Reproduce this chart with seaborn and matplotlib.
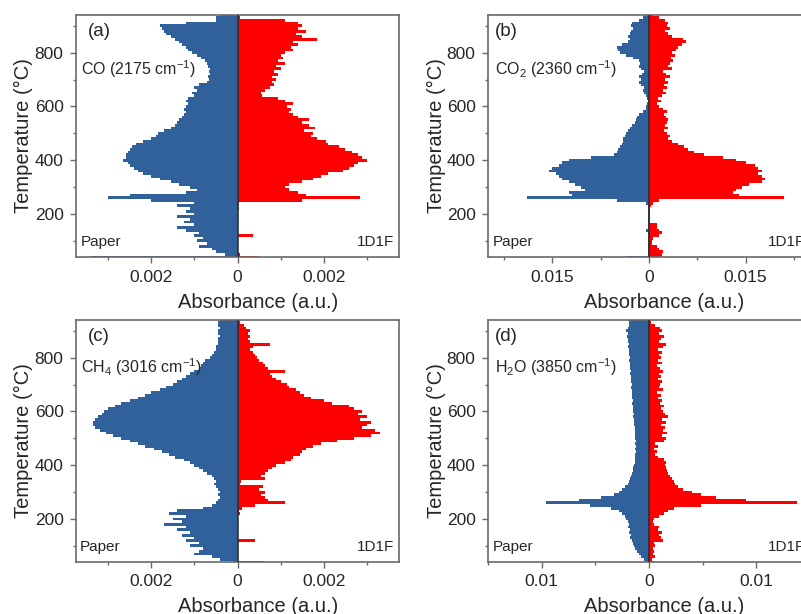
import numpy as np
import pandas as pd
import matplotlib
matplotlib.use("Agg")
import matplotlib.pyplot as plt
from matplotlib.ticker import FixedLocator, FuncFormatter
import seaborn as sns

sns.set_style("ticks")
plt.rcParams["font.family"] = ["Liberation Sans", "DejaVu Sans"]
plt.rcParams["mathtext.default"] = "regular"

# Temperature bins (°C), 40 ... 940 in 10 °C steps
temperature = np.arange(40, 950, 10)

# ---- CO (2175 cm-1), absorbance x 1e-4 ----
co_paper = [34, 3, 5, 6, 9, 7, 9.5, 8, 10, 9,
            12, 14, 10, 12.5, 11, 14, 10, 12, 11, 14,
            10, 20, 30, 25, 12, 9.5, 11, 13.5, 15.5, 18,
            20, 22, 23, 24, 25, 25.5, 26.5, 26, 26, 25.5,
            25, 24.5, 23.5, 22, 20, 19, 18.5, 17, 15.5, 14.5,
            14, 13.5, 13, 12.5, 12, 12.5, 12, 11.5, 12, 11.5,
            10, 10.5, 9.5, 10, 9, 7, 6.6, 6.8, 6.5, 6.7,
            6.5, 6.8, 7, 7.5, 8.5, 9.5, 10.5, 11.5, 12, 13,
            13.5, 14.5, 15.5, 16.5, 17, 17.5, 18, 12, 5, 5,
            4]
co_1d1f = [5, 0.5, 0.1, 0.1, 0.1, 0.1, 0.1, 0.2, 3.7, 0.2,
           0.1, 0.1, 0.1, 0.1, 0.1, 0.1, 0.2, 0.1, 0.3, 0.2,
           0.3, 15, 28.5, 16, 14, 12, 11, 12, 15, 17.5,
           19.5, 21, 24.5, 26, 27, 28, 30, 29, 28, 26.5,
           25, 23.5, 21, 20.5, 18.5, 17, 17.5, 15.5, 18, 16.5,
           15, 16.5, 14, 13, 12, 12.5, 11.5, 13, 11, 9.5,
           5.8, 5.5, 6.5, 7.5, 8.5, 8, 9, 8, 9.5, 8.5,
           10, 9, 11, 9.5, 10.5, 10, 11, 13, 12.5, 14,
           13, 18.5, 15, 13.5, 16, 14, 15, 14, 11, 0.5,
           0.3]

# ---- CO2 (2360 cm-1), absorbance x 1e-3 ----
co2_paper = [3.5, 0.1, 0.1, 0.1, 0.1, 0.1, 0.1, 0.1, 0.1, 0.1,
             0.4, 0.1, 0.1, 0.1, 0.1, 0.1, 0.1, 0.1, 0.2, 0.2,
             0.4, 5, 19, 12, 12.5, 10, 10.5, 11.5, 12.5, 13.5,
             14, 14.5, 15.5, 15, 14, 13.5, 12.5, 9, 5.5, 5,
             4.8, 4.5, 4.2, 4, 4, 3.8, 3.5, 3.2, 3, 2.7,
             2.2, 2, 1.8, 1.5, 1.0, 0.5, 0.4, 0.3, 0.2, 0.3,
             0.5, 0.8, 1, 0.8, 1.2, 1.5, 1.2, 1.5, 1.1, 0.8,
             1.2, 1.5, 1.4, 1.6, 2.5, 3.5, 4.5, 4.8, 5, 4.2,
             3.2, 3, 3.3, 3, 2.8, 2.5, 2.8, 2.6, 1.5, 1,
             0.6]
co2_1d1f = [1.8, 2, 2.2, 1.5, 1.3, 0.5, 0.4, 0.6, 1.5, 2,
            1.6, 1.3, 1.2, 0.2, 0.1, 0.1, 0.1, 0.1, 0.2, 0.3,
            0.6, 1.5, 21, 14, 13, 13.5, 14.5, 15.5, 17.5, 18,
            17.5, 17, 17.5, 17, 16.5, 15, 13.5, 11.5, 8.5, 7,
            6, 5.5, 4.5, 3.5, 3, 3.2, 2.8, 2.3, 3, 2.5,
            2.8, 3, 2.6, 2.4, 2.8, 2.2, 1.6, 1.2, 1.9, 1.4,
            2, 2.6, 2.2, 2.8, 2.4, 2.9, 2.5, 3.3, 2.6, 2.2,
            3.5, 3.0, 3.2, 3.8, 3.4, 4, 3.6, 4.2, 4.5, 5.2,
            5.8, 5.3, 3.5, 3, 2.5, 3.2, 2.8, 3, 2.5, 1.5,
            0.6]

# ---- CH4 (3016 cm-1), absorbance x 1e-4 ----
ch4_paper = [1, 4, 6, 10, 9, 8, 11, 9, 12, 10,
             13, 11, 14, 12, 17, 13, 15, 12, 16, 14,
             8, 6, 5, 4.5, 4, 4.5, 4, 4.5, 5, 5.5,
             5, 5.5, 6, 7, 8, 9, 10, 11, 12.5, 14.5,
             16, 17.5, 19.5, 21.5, 23, 25, 27, 29, 30.5, 32,
             33, 33.5, 33.5, 33, 32.5, 31.5, 31, 30, 28.5, 27,
             25, 23, 21.5, 20, 18, 16.5, 15, 14, 13, 12,
             11, 10, 9, 8.5, 8, 7.5, 6.5, 6, 5.5, 5,
             5, 4.5, 4.5, 4.5, 4, 4.5, 4.5, 4, 4.5, 4.5,
             4]
ch4_1d1f = [6, 0.2, 0.1, 0.1, 0.1, 0.1, 0.1, 0.2, 4, 0.2,
            0.1, 0.1, 0.1, 0.1, 0.1, 0.1, 0.2, 0.1, 0.5, 0.3,
            1, 4, 11, 7, 6.5, 5.5, 6.5, 5, 6, 0.5,
            0.8, 6.5, 5.5, 6.5, 7, 8, 9, 11, 12.5, 13,
            14.5, 15, 16, 17.5, 19.5, 23, 27, 31, 33, 32,
            29, 30, 31, 28.5, 30, 28, 29, 27, 26, 22,
            20, 17, 15.5, 14.5, 13.5, 12, 11.5, 10, 9, 8,
            7.5, 11, 7, 6.5, 6, 5, 4.5, 4, 3.5, 3,
            3.5, 7.5, 3, 2.5, 3, 2.5, 3, 2, 1.5, 0.5,
            0.2]

# ---- H2O (3850 cm-1), absorbance x 1e-3 ----
h2o_paper = [0.3, 0.5, 0.7, 0.9, 1.1, 1.3, 1.4, 1.5, 1.6, 1.8,
             1.7, 1.9, 1.8, 2, 1.9, 2, 2.1, 2.2, 2.5, 2.8,
             3.5, 5.5, 9.6, 6.5, 4.5, 3.3, 2.8, 2.5, 2.2, 2,
             1.9, 1.8, 1.7, 1.6, 1.5, 1.5, 1.4, 1.35, 1.3, 1.3,
             1.3, 1.25, 1.3, 1.25, 1.3, 1.25, 1.3, 1.3, 1.35, 1.3,
             1.35, 1.4, 1.4, 1.4, 1.45, 1.4, 1.5, 1.45, 1.5, 1.55,
             1.5, 1.55, 1.6, 1.55, 1.6, 1.65, 1.6, 1.7, 1.65, 1.7,
             1.75, 1.7, 1.8, 1.75, 1.8, 1.85, 1.8, 1.9, 1.85, 1.9,
             1.95, 1.9, 2, 1.95, 2.05, 2, 2.1, 2, 1.9, 1.9,
             2]
h2o_1d1f = [0.5, 0.3, 0.6, 0.4, 0.5, 0.4, 0.6, 0.5, 1.3, 1.1,
            0.9, 1.2, 0.8, 0.9, 0.5, 0.4, 0.5, 0.9, 1.4, 1.8,
            2.3, 4.8, 13.8, 9, 6.2, 4.8, 4, 3.2, 2.7, 2.4,
            2.3, 2.1, 2, 1.8, 1.7, 1.6, 1.5, 1.6, 1.4, 0.8,
            0.6, 0.7, 0.5, 0.8, 0.6, 1.4, 1.6, 1.2, 1.7, 1.3,
            1.5, 1.1, 1.6, 1.2, 1.8, 1.5, 1.3, 1.1, 1.4, 1,
            1.2, 0.8, 1.1, 0.7, 1.3, 0.9, 1, 1.2, 0.8, 1.1,
            0.9, 1.3, 1, 0.7, 1.2, 0.8, 1.1, 0.9, 1.2, 0.8,
            1.3, 1.6, 0.9, 1.1, 1.4, 0.9, 1.2, 1, 0.6, 0.2,
            0.1]

species_labels = ["CO (2175 cm$^{-1}$)", "CO$_2$ (2360 cm$^{-1}$)",
                  "CH$_4$ (3016 cm$^{-1}$)", "H$_2$O (3850 cm$^{-1}$)"]
panel_tags = ["(a)", "(b)", "(c)", "(d)"]
sample_names = ["Paper", "1D1F"]

BLUE = "#30619a"
RED = "#ff0000"
SPINE = "#6a6a6a"
INK = "#262626"

W, H = 801, 614
fig = plt.figure(figsize=(W / 100, H / 100), dpi=100)

# left, top, width, height in pixels; x half-range; major/minor x steps; unit scale
layout = [
    dict(box=(76, 15, 323, 242), half=0.00375, major=0.002, minor=0.001, scale=1e-4,
         data=(co_paper, co_1d1f), tag_x=0.037, lab_x=0.015, paper_x=0.015,
         lab_y=0.750, xlab_x=0.563, ylab_x=-0.164),
    dict(box=(488, 15, 322, 242), half=0.025, major=0.015, minor=0.0075, scale=1e-3,
         data=(co2_paper, co2_1d1f), tag_x=0.022, lab_x=0.022, paper_x=0.016,
         lab_y=0.750, xlab_x=0.547, ylab_x=-0.160),
    dict(box=(76, 320, 323, 242), half=0.00375, major=0.002, minor=0.001, scale=1e-4,
         data=(ch4_paper, ch4_1d1f), tag_x=0.037, lab_x=0.017, paper_x=0.013,
         lab_y=0.780, xlab_x=0.563, ylab_x=-0.164),
    dict(box=(488, 320, 322, 242), half=0.015, major=0.01, minor=0.005, scale=1e-3,
         data=(h2o_paper, h2o_1d1f), tag_x=0.022, lab_x=0.022, paper_x=0.016,
         lab_y=0.780, xlab_x=0.547, ylab_x=-0.160),
]

n = len(temperature)
for i, cfg in enumerate(layout):
    l, t, w, h = cfg["box"]
    ax = fig.add_axes([l / W, 1 - (t + h) / H, w / W, h / H])

    paper, d1f = cfg["data"]
    frame = pd.DataFrame({
        "temperature": np.concatenate([temperature, temperature]),
        "absorbance": np.concatenate([-np.asarray(paper) * cfg["scale"],
                                      np.asarray(d1f) * cfg["scale"]]),
        "sample": [sample_names[0]] * n + [sample_names[1]] * n,
    })
    sns.barplot(data=frame, x="absorbance", y="temperature", hue="sample",
                palette={sample_names[0]: BLUE, sample_names[1]: RED},
                orient="y", native_scale=True, dodge=False, width=1.05,
                errorbar=None, saturation=1, linewidth=0, legend=False, ax=ax)

    ax.axvline(0, color="#2a2a2a", lw=1.1, zorder=5)

    half = cfg["half"]
    ax.set_xlim(-half, half)
    ax.set_ylim(40, 940)

    mj = cfg["major"]
    ax.xaxis.set_major_locator(FixedLocator([-mj, 0, mj]))
    mn = cfg["minor"]
    k = int(np.floor(half / mn + 1e-9))
    ax.xaxis.set_minor_locator(FixedLocator([j * mn for j in range(-k, k + 1)]))
    ax.xaxis.set_major_formatter(FuncFormatter(lambda v, p: f"{abs(v):g}"))
    ax.yaxis.set_major_locator(FixedLocator([200, 400, 600, 800]))
    ax.yaxis.set_minor_locator(FixedLocator([100, 300, 500, 700, 900]))

    for s in ax.spines.values():
        s.set_color(SPINE)
        s.set_linewidth(1.2)
    ax.tick_params(which="both", direction="out", color=SPINE, width=1.0,
                   top=False, right=False, labelcolor=INK, labelsize=12.5)
    ax.tick_params(which="major", length=4, pad=5)
    ax.tick_params(which="minor", length=2.5)

    ax.set_xlabel("Absorbance (a.u.)", fontsize=14.5, color=INK)
    ax.set_ylabel("Temperature (°C)", fontsize=14.5, color=INK)
    ax.xaxis.label.set_va("center")
    ax.yaxis.label.set_va("center")
    ax.xaxis.set_label_coords(cfg["xlab_x"], -45 / 242)
    ax.yaxis.set_label_coords(cfg["ylab_x"], 0.5)

    ax.text(cfg["tag_x"], 0.965, panel_tags[i], transform=ax.transAxes,
            fontsize=13.5, color=INK, ha="left", va="top")
    ax.text(cfg["lab_x"], cfg["lab_y"], species_labels[i], transform=ax.transAxes,
            fontsize=11.5, color=INK, ha="left", va="baseline")
    ax.text(cfg["paper_x"], 0.045, sample_names[0], transform=ax.transAxes,
            fontsize=11, color=INK, ha="left", va="baseline")
    ax.text(0.985, 0.045, sample_names[1], transform=ax.transAxes,
            fontsize=11, color=INK, ha="right", va="baseline")

fig.savefig("out.png", dpi=100)
